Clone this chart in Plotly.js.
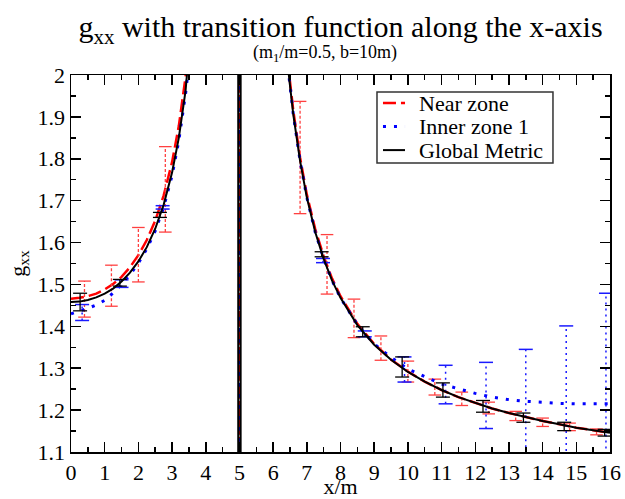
<!DOCTYPE html>
<html>
<head>
<meta charset="utf-8">
<script src="https://cdn.plot.ly/plotly-3.0.1.min.js"></script>
<style>html,body{margin:0;padding:0;background:#fff;}#chart{width:625px;height:499px;}</style>
</head>
<body>
<div id="chart"></div>
<script>
// ---- data ----
const xGrid = [0,0.25,0.5,0.75,1,1.25,1.5,1.75,2,2.25,2.5,2.75,3,3.2,3.4,3.6,3.8,
               4.9,4.95,5,5.05,5.1,
               6.4,6.5,6.6,6.8,7,7.25,7.5,7.75,8,8.5,9,9.5,10,10.5,11,11.5,12,12.5,13,13.5,14,14.5,15,15.5,16];

const nearZone = [1.466,1.468,1.472,1.478,1.488,1.501,1.518,1.541,1.570,1.606,1.652,1.712,1.792,1.878,1.995,2.15,2.37,
                  154,600,0,600,154,
                  2.06,1.985,1.914,1.803,1.715,1.632,1.567,1.514,1.472,1.406,1.358,1.321,1.292,1.268,1.248,1.231,1.217,1.204,1.193,1.183,1.174,1.166,1.158,1.152,1.146];

const innerZone1 = [1.430,1.436,1.443,1.451,1.462,1.480,1.500,1.523,1.551,1.585,1.628,1.684,1.760,1.843,1.955,2.10,2.32,
                    154,600,0,600,154,
                    2.05,1.975,1.905,1.795,1.708,1.625,1.561,1.509,1.468,1.404,1.358,1.326,1.298,1.280,1.262,1.251,1.240,1.231,1.225,1.221,1.218,1.216,1.215,1.215,1.215];

const globalMetric = [1.458,1.459,1.463,1.469,1.478,1.490,1.507,1.528,1.555,1.589,1.633,1.690,1.767,1.850,1.962,2.11,2.33,
                      154,80,-200,80,154,
                      2.05,1.975,1.905,1.795,1.708,1.625,1.561,1.509,1.468,1.403,1.356,1.320,1.291,1.268,1.248,1.231,1.217,1.204,1.193,1.183,1.174,1.166,1.158,1.152,1.146];

// error bars: near zone
const nearErrX = [0.4,1.2,2.0,2.8,6.8,7.6,8.4,9.2,10.0,10.8,11.6,12.4,13.2,14.0,14.8,15.6];
const nearErrY = [1.465,1.497,1.571,1.727,1.803,1.548,1.419,1.348,1.292,1.255,1.227,1.205,1.186,1.171,1.160,1.148];
const nearErr  = [0.043,0.049,0.065,0.102,0.134,0.071,0.046,0.029,0.025,0.019,0.016,0.014,0.011,0.010,0.009,0.007];

// error bars: inner zone 1
const innerErrX = [0.33,1.5,2.72,7.48,8.72,9.9,11.12,12.32,13.5,14.7,15.88];
const innerErrY = [1.433,1.502,1.684,1.557,1.382,1.297,1.261,1.235,1.221,1.216,1.215];
const innerErr  = [0.019,0.009,0.004,0.005,0.007,0.030,0.046,0.079,0.124,0.185,0.264];

// error bars: global metric
const globalErrX = [0.27,1.45,2.64,7.44,8.66,9.83,11.04,12.23,13.43,14.64,15.84];
const globalErrY = [1.458,1.504,1.666,1.572,1.387,1.303,1.248,1.209,1.182,1.161,1.146];
const globalErr  = [0.021,0.008,0.006,0.006,0.012,0.024,0.017,0.014,0.011,0.010,0.008];

const xTicks = [0,1,2,3,4,5,6,7,8,9,10,11,12,13,14,15,16];
const yTicks = [1.1,1.2,1.3,1.4,1.5,1.6,1.7,1.8,1.9,2];
const yTickLabels = ['1.1','1.2','1.3','1.4','1.5','1.6','1.7','1.8','1.9','2'];

const seriesNames = ['Near zone', 'Inner zone 1', 'Global Metric'];

// ---- styles ----
const FONT = '"Liberation Serif", "Times New Roman", Times, serif';
const nearLine   = {color: '#ff0000', width: 2.5, dash: '13px,5px'};
const innerLine  = {color: '#0000ff', width: 3, dash: '3px,8px'};
const globalLine = {color: '#000000', width: 2};

// ---- helpers building error-bar traces from the arrays ----
function stems(xs, ys, es) {
  const x = [], y = [];
  xs.forEach((v, i) => { x.push(v, v, null); y.push(ys[i] - es[i], ys[i] + es[i], null); });
  return {x, y};
}
function caps(xs, ys, es) {
  const x = [], y = [];
  xs.forEach((v, i) => { x.push(v, v); y.push(ys[i] - es[i], ys[i] + es[i]); });
  return {x, y};
}
function errTraces(xs, ys, es, color, dash, width, capSize) {
  const s = stems(xs, ys, es), c = caps(xs, ys, es);
  return [
    {x: s.x, y: s.y, mode: 'lines', line: {color: color, width: width, dash: dash},
     showlegend: false, hoverinfo: 'skip', connectgaps: false},
    {x: c.x, y: c.y, mode: 'markers',
     marker: {symbol: 'line-ew', size: capSize, color: color, line: {color: color, width: width}},
     showlegend: false, hoverinfo: 'skip'}
  ];
}

const traces = [
  {x: xGrid, y: nearZone, mode: 'lines', name: seriesNames[0], line: nearLine, showlegend: false},
  ...errTraces(nearErrX, nearErrY, nearErr, '#ff4040', '3px,2px', 1.3, 9),
  {x: xGrid, y: innerZone1, mode: 'lines', name: seriesNames[1], line: innerLine, showlegend: false},
  ...errTraces(innerErrX, innerErrY, innerErr, '#1a1aff', '2px,4px', 1.5, 10),
  {x: xGrid, y: globalMetric, mode: 'lines', name: seriesNames[2], line: globalLine, showlegend: false},
  ...errTraces(globalErrX, globalErrY, globalErr, '#000000', 'solid', 1.3, 10)
];

const axisCommon = {
  ticks: 'inside', ticklen: 10, tickwidth: 1.5, tickcolor: '#000',
  showline: true, linewidth: 1.5, linecolor: '#000', mirror: 'ticks',
  showgrid: false, zeroline: false,
  tickfont: {family: FONT, size: 22, color: '#000'}
};

// ---- legend (box, samples and labels in paper coordinates) ----
const legBox = {x0: 0.5677, x1: 0.8942, y0: 0.7663, y1: 0.9548};
const legSample = {x0: 0.5788, x1: 0.6197};
const legTextX = 0.6419;
const legRowsY = [0.9256, 0.8632, 0.8008];
const legLines = [nearLine, innerLine, globalLine];

const shapes = [
  {type: 'rect', xref: 'paper', yref: 'paper', x0: legBox.x0, x1: legBox.x1, y0: legBox.y0, y1: legBox.y1,
   line: {color: '#333', width: 1.5}, fillcolor: '#fff', layer: 'above'}
];
legRowsY.forEach((yy, i) => {
  shapes.push({type: 'line', xref: 'paper', yref: 'paper', x0: legSample.x0, x1: legSample.x1, y0: yy, y1: yy,
               line: {color: legLines[i].color, width: legLines[i].width, dash: legLines[i].dash || 'solid'}, layer: 'above'});
});

const annotations = [
  {text: '(m<sub>1</sub>/m=0.5, b=10m)', xref: 'paper', yref: 'paper',
   x: 0.471, y: 1.058, xanchor: 'center', yanchor: 'middle', showarrow: false,
   font: {family: FONT, size: 18, color: '#000'}}
];
legRowsY.forEach((yy, i) => {
  annotations.push({text: seriesNames[i], xref: 'paper', yref: 'paper', x: legTextX, y: yy,
                    xanchor: 'left', yanchor: 'middle', showarrow: false,
                    font: {family: FONT, size: 22, color: '#000'}});
});

const layout = {
  width: 625, height: 499,
  margin: {l: 71, r: 15, t: 75, b: 47},
  paper_bgcolor: '#fff', plot_bgcolor: '#fff',
  font: {family: FONT, color: '#000'},
  showlegend: false,
  title: {text: 'g<sub>xx</sub> with transition function along the x-axis',
          font: {family: FONT, size: 30, color: '#000'},
          x: 0.5, xref: 'paper', xanchor: 'center', y: 0.946, yref: 'container', yanchor: 'middle'},
  annotations: annotations,
  shapes: shapes,
  xaxis: Object.assign({}, axisCommon, {
    range: [0, 16], tickmode: 'array', tickvals: xTicks, ticktext: xTicks.map(String),
    minor: {dtick: 0.5, tick0: 0, ticks: 'inside', ticklen: 5, tickwidth: 1.5, tickcolor: '#000', showgrid: false},
    title: {text: 'x/m', font: {family: FONT, size: 22, color: '#000'}, standoff: 6}
  }),
  yaxis: Object.assign({}, axisCommon, {
    range: [1.1, 2], tickmode: 'array', tickvals: yTicks, ticktext: yTickLabels,
    minor: {dtick: 0.05, tick0: 1.1, ticks: 'inside', ticklen: 5, tickwidth: 1.5, tickcolor: '#000', showgrid: false},
    title: {text: 'g<sub>xx</sub>', font: {family: FONT, size: 22, color: '#000'}, standoff: 6}
  })
};

Plotly.newPlot('chart', traces, layout, {staticPlot: true, displayModeBar: false});
</script>
</body>
</html>
